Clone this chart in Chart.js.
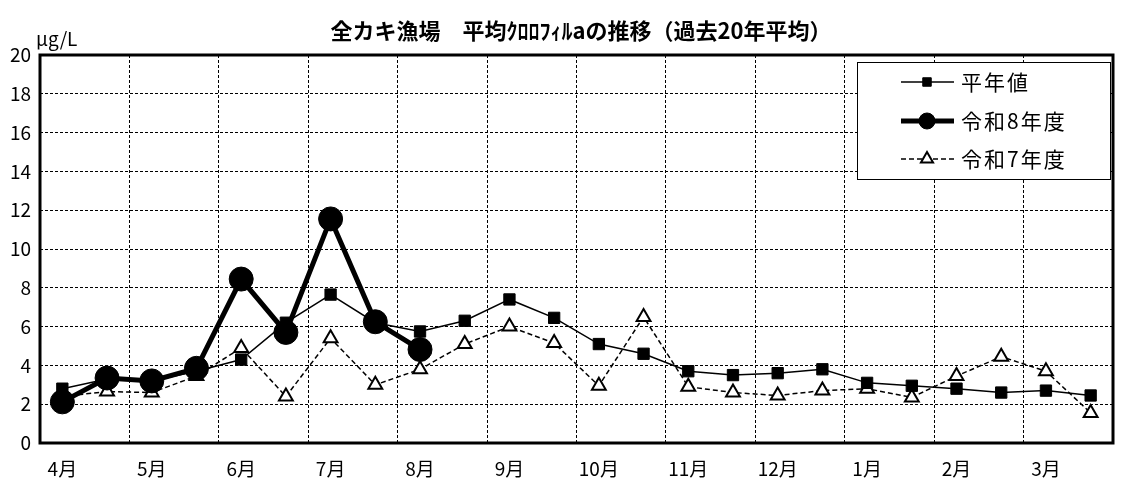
<!DOCTYPE html>
<html>
<head>
<meta charset="utf-8">
<script src="https://cdn.jsdelivr.net/npm/chart.js@4"></script>
<style>
  html, body { margin: 0; padding: 0; background: #fff; }
  #wrap { width: 1129px; height: 494px; }
</style>
</head>
<body>
<div id="wrap"><canvas id="chl"></canvas></div>
<script>
const categories = ['4月', '', '5月', '', '6月', '', '7月', '', '8月', '', '9月', '',
  '10月', '', '11月', '', '12月', '', '1月', '', '2月', '', '3月', ''];
const heinen = [2.8, 3.3, 3.2, 3.7, 4.3, 6.2, 7.65, 6.2, 5.75, 6.3, 7.4, 6.45,
  5.1, 4.6, 3.7, 3.5, 3.6, 3.8, 3.1, 2.95, 2.8, 2.6, 2.7, 2.45];
const reiwa8 = [2.12, 3.35, 3.2, 3.85, 8.45, 5.7, 11.55, 6.25, 4.82];
const reiwa7 = [2.4, 2.65, 2.6, 3.45, 4.9, 2.4, 5.4, 3.0, 3.8, 5.1, 6.0, 5.15,
  2.95, 6.5, 2.9, 2.6, 2.45, 2.7, 2.8, 2.35, 3.45, 4.45, 3.7, 1.55];
const yTicks = [0, 2, 4, 6, 8, 10, 12, 14, 16, 18, 20];

const FONT = '"Noto Sans CJK JP", "Noto Sans", sans-serif';

// frame, title, unit and the boxed legend
const decor = {
  id: 'decor',
  beforeDatasetsDraw(chart) {
    const { ctx, chartArea: a } = chart;
    ctx.save();
    ctx.strokeStyle = '#000';
    ctx.lineWidth = 3;
    ctx.strokeRect(a.left, a.top, a.right - a.left, a.bottom - a.top);
    ctx.restore();
  },
  afterDraw(chart) {
    const { ctx } = chart;
    ctx.save();
    ctx.fillStyle = '#000';
    ctx.textBaseline = 'middle';
    ctx.textAlign = 'center';
    ctx.font = 'bold 22px ' + FONT;
    ctx.fillText('全カキ漁場　平均ｸﾛﾛﾌｨﾙaの推移（過去20年平均）', 581, 31);
    ctx.textAlign = 'left';
    ctx.font = '19px ' + FONT;
    ctx.fillText('μg/L', 36, 39);

    // legend box
    const bx = 857, by = 62, bw = 253, bh = 117;
    ctx.fillStyle = '#fff';
    ctx.fillRect(bx, by, bw, bh);
    ctx.strokeStyle = '#000';
    ctx.lineWidth = 1;
    ctx.strokeRect(bx + 0.5, by + 0.5, bw, bh);
    const rowY = [82, 121, 159];
    [0, 1, 2].forEach((di, r) => {
      const ds = chart.data.datasets[di];
      const y = rowY[r];
      ctx.save();
      ctx.strokeStyle = '#000';
      ctx.lineWidth = ds.borderWidth;
      ctx.setLineDash(ds.borderDash || []);
      ctx.beginPath();
      ctx.moveTo(901, y);
      ctx.lineTo(954, y);
      ctx.stroke();
      ctx.setLineDash([]);
      ctx.fillStyle = ds.pointBackgroundColor;
      ctx.strokeStyle = '#000';
      ctx.lineWidth = ds.pointBorderWidth;
      Chart.helpers.drawPoint(ctx, {
        pointStyle: ds.pointStyle,
        radius: ds.legendRadius,
        borderWidth: ds.pointBorderWidth
      }, 927, y);
      ctx.restore();
      ctx.save();
      ctx.fillStyle = '#000';
      ctx.font = '21px ' + FONT;
      ctx.letterSpacing = '2px';
      ctx.textAlign = 'left';
      ctx.fillText(ds.label, 961, y);
      ctx.restore();
    });
    ctx.restore();
  }
};

const chart = new Chart(document.getElementById('chl'), {
  type: 'line',
  data: {
    labels: categories,
    datasets: [
      {
        label: '平年値',
        data: heinen,
        borderColor: '#000',
        borderWidth: 1.5,
        pointStyle: 'rect',
        pointRadius: 8,
        legendRadius: 6,
        pointBackgroundColor: '#000',
        pointBorderColor: '#000',
        pointBorderWidth: 1,
        order: 1
      },
      {
        label: '令和8年度',
        data: reiwa8,
        borderColor: '#000',
        borderWidth: 5,
        pointStyle: 'circle',
        pointRadius: 12,
        legendRadius: 8,
        pointBackgroundColor: '#000',
        pointBorderColor: '#000',
        pointBorderWidth: 1,
        order: 0
      },
      {
        label: '令和7年度',
        data: reiwa7,
        borderColor: '#000',
        borderWidth: 1.5,
        borderDash: [5, 3],
        pointStyle: 'triangle',
        pointRadius: 8,
        legendRadius: 7,
        pointBackgroundColor: '#fff',
        pointBorderColor: '#000',
        pointBorderWidth: 2,
        order: 2
      }
    ]
  },
  options: {
    responsive: true,
    maintainAspectRatio: false,
    animation: false,
    layout: { padding: { top: 55, right: 16, left: 0, bottom: 0 } },
    plugins: {
      legend: { display: false },
      tooltip: { enabled: false }
    },
    elements: { line: { tension: 0 } },
    scales: {
      x: {
        offset: true,
        grid: {
          offset: true,
          drawTicks: false,
          lineWidth: 1,
          color: (c) => (c.index > 0 && c.index % 2 === 0) ? '#000' : 'rgba(0,0,0,0)'
        },
        border: { display: false, dash: [3, 2] },
        ticks: {
          autoSkip: false,
          maxRotation: 0,
          padding: 14,
          color: '#000',
          font: { family: FONT, size: 19 }
        },
        afterFit(s) { s.height = 51; }
      },
      y: {
        min: 0,
        max: 20,
        afterBuildTicks(s) { s.ticks = yTicks.map(v => ({ value: v })); },
        grid: { drawTicks: false, color: '#000', lineWidth: 1 },
        border: { display: false, dash: [3, 2] },
        ticks: {
          padding: 9,
          color: '#000',
          font: { family: FONT, size: 19 }
        },
        afterFit(s) { s.width = 40; }
      }
    }
  },
  plugins: [decor]
});
</script>
</body>
</html>
